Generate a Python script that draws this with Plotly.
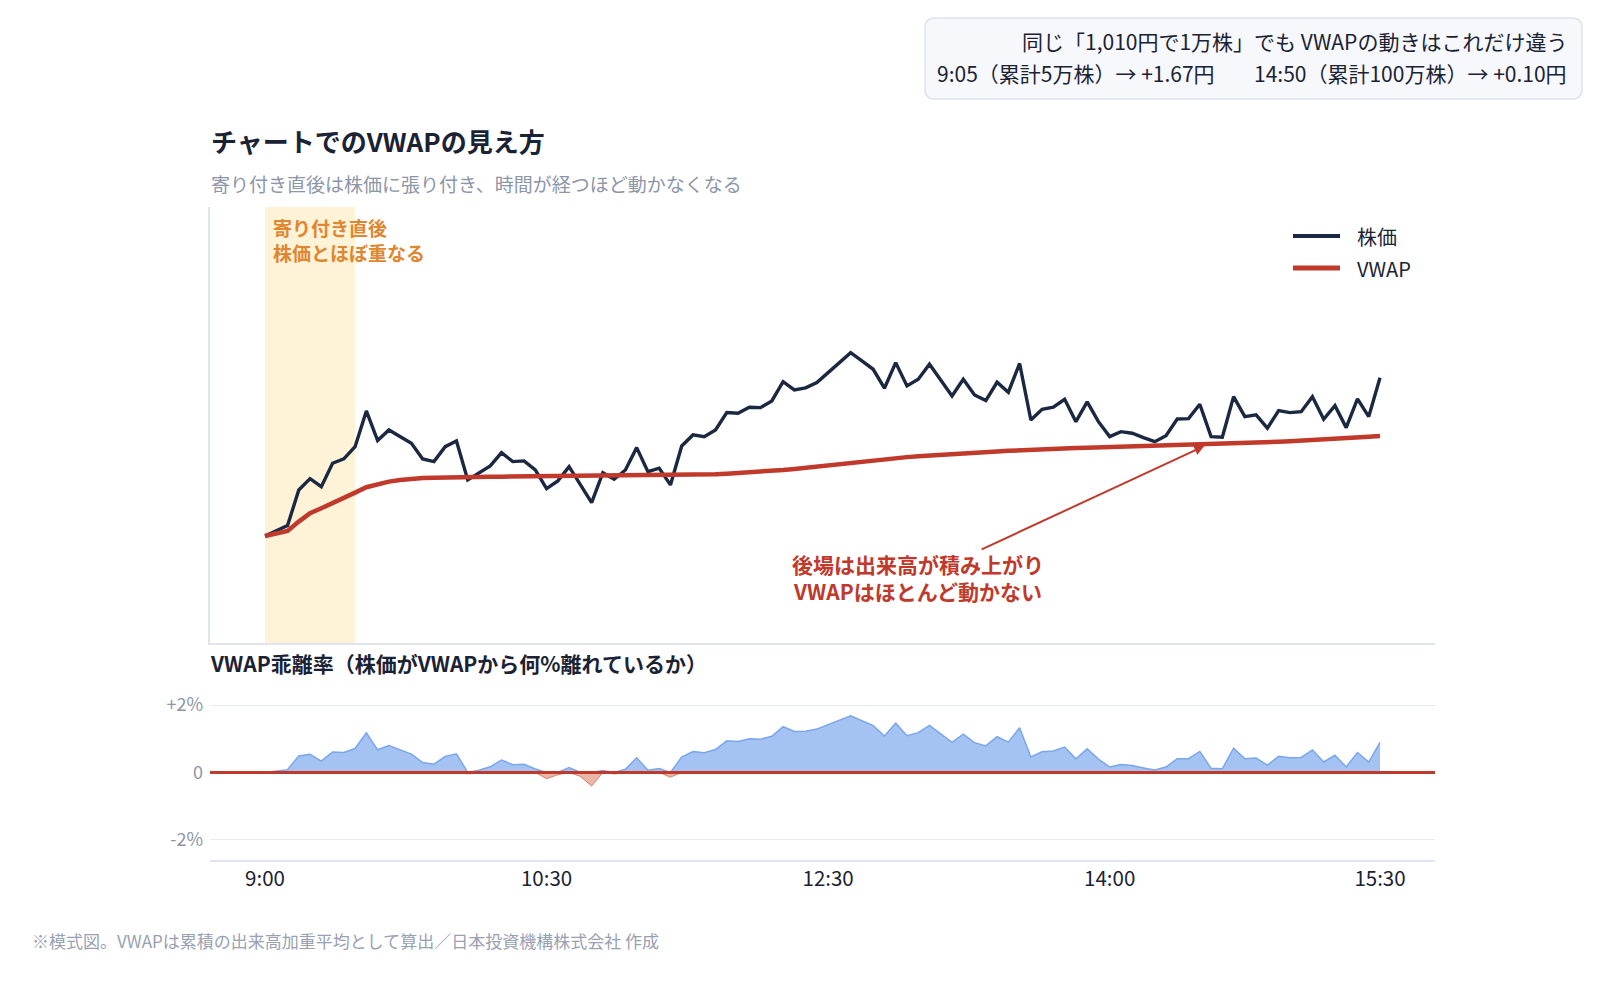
import plotly.graph_objects as go

# ---------------- data ----------------
tick_index = [0, 25, 50, 75, 99]
tick_labels = ["9:00", "10:30", "12:30", "14:00", "15:30"]

price = [1000.00, 1000.82, 1001.60, 1007.13, 1008.88, 1007.64, 1011.27, 1011.94, 1013.84, 1019.38,
         1014.78, 1016.43, 1015.40, 1014.37, 1011.94, 1011.52, 1013.84, 1014.73, 1008.68, 1009.81,
         1010.85, 1012.91, 1011.52, 1011.63, 1010.23, 1007.33, 1008.53, 1010.74, 1008.06, 1005.16,
         1009.81, 1008.79, 1010.23, 1013.69, 1009.97, 1010.50, 1007.91, 1013.95, 1015.66, 1015.40,
         1016.43, 1019.12, 1019.02, 1019.95, 1019.89, 1020.93, 1023.92, 1022.64, 1022.95, 1023.77,
         1025.32, 1026.87, 1028.42, 1027.13, 1025.84, 1022.90, 1026.87, 1023.26, 1024.29, 1026.62,
         1024.19, 1021.71, 1024.29, 1021.86, 1020.98, 1023.83, 1022.28, 1026.74, 1017.98, 1019.64,
         1019.95, 1021.19, 1017.72, 1020.78, 1017.72, 1015.40, 1016.17, 1015.92, 1015.24, 1014.62,
         1015.55, 1018.14, 1018.19, 1020.42, 1015.40, 1015.30, 1021.60, 1018.50, 1018.76, 1016.70,
         1019.43, 1019.12, 1019.27, 1021.60, 1018.09, 1020.20, 1016.79, 1021.24, 1018.50, 1024.54]

vwap = [1000.00, 1000.47, 1000.78, 1002.22, 1003.52, 1004.29, 1005.16, 1006.00, 1006.71, 1007.55,
        1008.02, 1008.42, 1008.68, 1008.88, 1008.99, 1009.04, 1009.10, 1009.15, 1009.15, 1009.16,
        1009.18, 1009.19, 1009.21, 1009.22, 1009.22, 1009.22, 1009.24, 1009.26, 1009.26, 1009.26,
        1009.27, 1009.29, 1009.30, 1009.32, 1009.33, 1009.35, 1009.35, 1009.38, 1009.43, 1009.49,
        1009.57, 1009.66, 1009.75, 1009.84, 1009.95, 1010.08, 1010.23, 1010.39, 1010.57, 1010.78,
        1010.98, 1011.21, 1011.44, 1011.63, 1011.80, 1011.95, 1012.09, 1012.22, 1012.34, 1012.47,
        1012.57, 1012.68, 1012.79, 1012.90, 1013.01, 1013.10, 1013.19, 1013.29, 1013.36, 1013.44,
        1013.52, 1013.58, 1013.64, 1013.69, 1013.74, 1013.78, 1013.83, 1013.86, 1013.89, 1013.92,
        1013.95, 1014.00, 1014.05, 1014.11, 1014.17, 1014.22, 1014.29, 1014.37, 1014.45, 1014.53,
        1014.60, 1014.68, 1014.76, 1014.85, 1014.95, 1015.04, 1015.15, 1015.26, 1015.38, 1015.50]

opening_band = [0, 8]          # index range of 寄り付き直後 band
dev_ticks = [-2, 0, 2]
dev_tick_labels = ["-2%", "0", "+2%"]

x = list(range(len(price)))
dev = [(p - v) / v * 100 for p, v in zip(price, vwap)]
dev_pos = [max(d, 0) for d in dev]
dev_neg = [min(d, 0) for d in dev]

# ---------------- layout helpers ----------------
W, H = 1600, 982
ML, MR, MT, MB = 210, 165, 207, 122
PW, PH = W - ML - MR, H - MT - MB


def px_x(px):
    return (px - ML) / PW


def px_y(py):
    return (H - MB - py) / PH


FONT = "Noto Sans CJK JP, Noto Sans CJK SC, sans-serif"
NAVY = "#1b2842"
TEXT = "#1a2233"
RED = "#c0392b"
ORANGE = "#e0862f"
GRAY = "#8c96a8"
AXIS = "#dfe4ee"

x_per = (1380 - 265) / (len(price) - 1)
x_range = [-(265 - ML) / x_per, (len(price) - 1) + (W - MR - 1380) / x_per]

fig = go.Figure()
fig.add_trace(go.Scatter(x=x, y=price, mode="lines", name="株価",
                         line=dict(color=NAVY, width=3.4), showlegend=False,
                         xaxis="x", yaxis="y"))
fig.add_trace(go.Scatter(x=x, y=vwap, mode="lines", name="VWAP",
                         line=dict(color=RED, width=4.5), showlegend=False,
                         xaxis="x", yaxis="y"))
fig.add_trace(go.Scatter(x=x, y=dev_pos, mode="lines", fill="tozeroy",
                         fillcolor="rgba(80,140,232,0.52)",
                         line=dict(color="#79a6ec", width=1.5), showlegend=False,
                         xaxis="x2", yaxis="y2"))
fig.add_trace(go.Scatter(x=x, y=dev_neg, mode="lines", fill="tozeroy",
                         fillcolor="rgba(214,112,80,0.5)",
                         line=dict(color="rgba(208,110,85,0.8)", width=1), showlegend=False,
                         xaxis="x2", yaxis="y2"))

shapes = []
# opening band
shapes.append(dict(type="rect", xref="x", yref="y domain", x0=opening_band[0], x1=opening_band[1],
                   y0=0, y1=1, fillcolor="#fef2d7", line=dict(width=0), layer="below"))
# zero line in deviation chart
shapes.append(dict(type="line", xref="paper", yref="y2", x0=0, x1=1, y0=0, y1=0,
                   line=dict(color=RED, width=3), layer="above"))
# info box (rounded)
bx0, bx1 = px_x(925), px_x(1582)
by0, by1 = px_y(99), px_y(18)
rx, ry = 10 / PW, 10 / PH
path = (f"M {bx0+rx},{by1} L {bx1-rx},{by1} Q {bx1},{by1} {bx1},{by1-ry} "
        f"L {bx1},{by0+ry} Q {bx1},{by0} {bx1-rx},{by0} L {bx0+rx},{by0} "
        f"Q {bx0},{by0} {bx0},{by0+ry} L {bx0},{by1-ry} Q {bx0},{by1} {bx0+rx},{by1} Z")
shapes.append(dict(type="path", xref="paper", yref="paper", path=path,
                   fillcolor="#f6f8fc", line=dict(color="#dde3ee", width=1.5)))
# manual legend
shapes.append(dict(type="line", xref="paper", yref="paper", x0=px_x(1293), x1=px_x(1340),
                   y0=px_y(236), y1=px_y(236), line=dict(color=NAVY, width=4)))
shapes.append(dict(type="line", xref="paper", yref="paper", x0=px_x(1293), x1=px_x(1340),
                   y0=px_y(268), y1=px_y(268), line=dict(color=RED, width=5)))

ann = []
ann.append(dict(xref="paper", yref="paper", x=px_x(209), y=px_y(140), xanchor="left", yanchor="middle",
                text="<b>チャートでのVWAPの見え方</b>", showarrow=False,
                font=dict(size=26, color=TEXT, family=FONT)))
ann.append(dict(xref="paper", yref="paper", x=px_x(209), y=px_y(183), xanchor="left", yanchor="middle",
                text="寄り付き直後は株価に張り付き、時間が経つほど動かなくなる", showarrow=False,
                font=dict(size=19, color=GRAY, family=FONT)))
ann.append(dict(xref="paper", yref="paper", x=px_x(1569), y=px_y(41), xanchor="right", yanchor="middle",
                text="同じ「1,010円で1万株」でも VWAPの動きはこれだけ違う", showarrow=False,
                font=dict(size=21, color=TEXT, family=FONT)))
ann.append(dict(xref="paper", yref="paper", x=px_x(935), y=px_y(73), xanchor="left", yanchor="middle",
                text="9:05（累計5万株）→ +1.67円", showarrow=False,
                font=dict(size=21, color=TEXT, family=FONT)))
ann.append(dict(xref="paper", yref="paper", x=px_x(1569), y=px_y(73), xanchor="right", yanchor="middle",
                text="14:50（累計100万株）→ +0.10円", showarrow=False,
                font=dict(size=21, color=TEXT, family=FONT)))
ann.append(dict(xref="paper", yref="paper", x=px_x(1355), y=px_y(236), xanchor="left", yanchor="middle",
                text="株価", showarrow=False, font=dict(size=20, color=TEXT, family=FONT)))
ann.append(dict(xref="paper", yref="paper", x=px_x(1355), y=px_y(268), xanchor="left", yanchor="middle",
                text="VWAP", showarrow=False, font=dict(size=20, color=TEXT, family=FONT)))
ann.append(dict(xref="paper", yref="paper", x=px_x(271), y=px_y(240), xanchor="left", yanchor="middle",
                text="<b>寄り付き直後<br>株価とほぼ重なる</b>", align="left", showarrow=False,
                font=dict(size=19, color=ORANGE, family=FONT)))
ann.append(dict(xref="paper", yref="paper", x=px_x(918), y=px_y(577), xanchor="center", yanchor="middle",
                text="<b>後場は出来高が積み上がり<br>VWAPはほとんど動かない</b>", align="center",
                showarrow=False, font=dict(size=21, color=RED, family=FONT)))
ann.append(dict(xref="x", yref="y", x=83.4, y=1013.95, axref="x", ayref="y", ax=63.5, ay=997.8,
                text="", showarrow=True, arrowhead=2, arrowsize=1, arrowwidth=2, arrowcolor=RED))
ann.append(dict(xref="paper", yref="paper", x=px_x(208), y=px_y(663), xanchor="left", yanchor="middle",
                text="<b>VWAP乖離率（株価がVWAPから何%離れているか）</b>", showarrow=False,
                font=dict(size=21, color=TEXT, family=FONT)))
ann.append(dict(xref="paper", yref="paper", x=px_x(30), y=px_y(940), xanchor="left", yanchor="middle",
                text="※模式図。VWAPは累積の出来高加重平均として算出／日本投資機構株式会社 作成",
                showarrow=False, font=dict(size=17, color="#98a1b1", family=FONT)))

fig.update_layout(
    width=W, height=H,
    margin=dict(l=ML, r=MR, t=MT, b=MB, pad=0),
    paper_bgcolor="white", plot_bgcolor="white",
    font=dict(family=FONT, color=TEXT),
    showlegend=False,
    xaxis=dict(domain=[0, 1], range=x_range, showticklabels=False, showgrid=False, zeroline=False,
               showline=True, linecolor=AXIS, linewidth=2, ticks="", anchor="y"),
    yaxis=dict(domain=[px_y(643), 1], range=[983.4, 1051.0], showticklabels=False, showgrid=False,
               zeroline=False, showline=True, linecolor=AXIS, linewidth=2, ticks="", anchor="x"),
    xaxis2=dict(domain=[0, 1], range=x_range, tickmode="array", tickvals=tick_index,
                ticktext=tick_labels, showgrid=False, zeroline=False, showline=True,
                linecolor=AXIS, linewidth=1.5, ticks="", anchor="y2",
                tickfont=dict(size=20.5, color=TEXT, family=FONT)),
    yaxis2=dict(domain=[0, px_y(684.8)], range=[-2.6, 2.6], tickmode="array", tickvals=dev_ticks,
                ticktext=dev_tick_labels, showgrid=True, gridcolor="#e6eaf1", gridwidth=1,
                zeroline=False, showline=False, ticks="", anchor="x2", ticklabelstandoff=6,
                tickfont=dict(size=18, color=GRAY, family=FONT)),
    shapes=shapes,
    annotations=ann,
)

fig.write_html("out.html")
